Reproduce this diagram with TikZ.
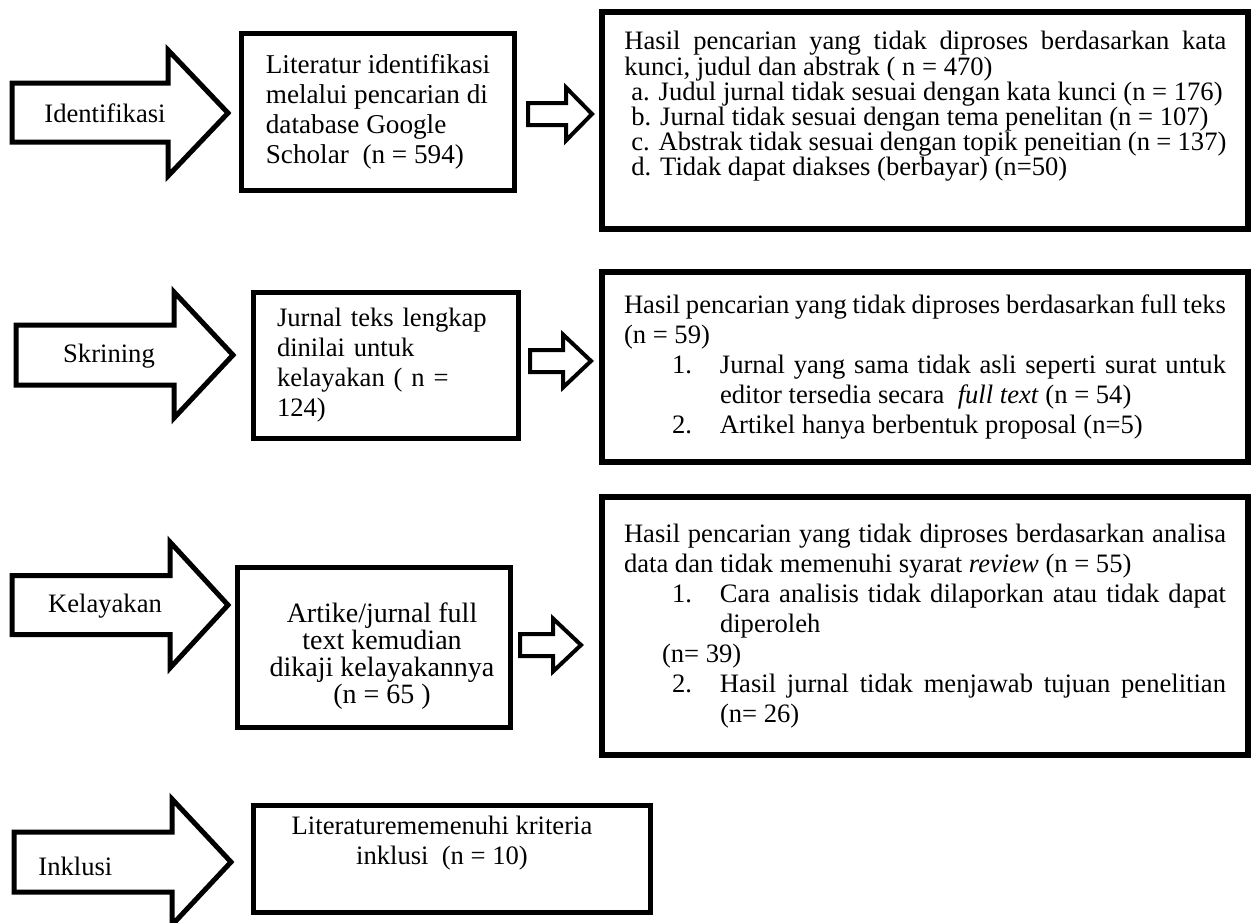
\documentclass[tikz,border=0pt]{standalone}
\usepackage{fontspec}
\setmainfont{Liberation Serif}
\setlength{\parindent}{0pt}
\hyphenpenalty=10000
\exhyphenpenalty=10000

\begin{document}
\begin{tikzpicture}[x=0.5pt,y=-0.5pt,
        font=\fontsize{13.3}{15}\selectfont,
        box/.style={draw,line width=2.5pt,inner xsep=12pt,inner ysep=0pt},
        resbox/.style={draw,line width=3pt,inner xsep=11pt,inner ysep=0pt,align=justify},
        restext/.style={inner sep=0pt,text width=301pt,align=justify},
        bigarr/.style={draw,line width=2.5pt},
        smallarr/.style={draw,line width=2pt},
        lbl/.style={inner sep=0pt}]
            \useasboundingbox (0,0) rectangle (1252,922);

            % identifikasi
            \draw[bigarr] (12,83)--(168,83)--(168,50)--(228,113)--(168,176)--(168,142)--(12,142)--cycle;
            \node[lbl] (idf) at (105,113) {Identifikasi};
            \node[box,minimum width=134pt,minimum height=78.5pt,align=left,
                font=\fontsize{13.6}{15}\selectfont] (lit) at (378,111.5)
                {Literatur identifikasi\\melalui pencarian di\\database Google\\Scholar~ (n = 594)};
            \draw[smallarr] (528,103)--(566,103)--(566,87.5)--(592,114)--(566,140.5)--(566,125)--(528,125)--cycle;
            \node[resbox,minimum width=323pt,minimum height=108.5pt] (res1) at (925,120.5) {};
            \node[restext,anchor=north west,font=\fontsize{13.3}{12.6}\selectfont] (res1txt) at (624,31)
                {Hasil pencarian yang tidak diproses berdasarkan kata\linebreak kunci, judul dan abstrak ( n = 470)\par
                \hspace*{3.5pt}a. Judul jurnal tidak sesuai dengan kata kunci (n = 176)\par
                \hspace*{3.5pt}b. Jurnal tidak sesuai dengan tema penelitan (n = 107)\par
                \hspace*{3.5pt}c. Abstrak tidak sesuai dengan topik peneitian (n = 137)\par
                \hspace*{3.5pt}d. Tidak dapat diakses (berbayar) (n=50)\par};

            % skrining
            \draw[bigarr] (16,325)--(174,325)--(174,292)--(233,355)--(174,418)--(174,385)--(16,385)--cycle;
            \node[lbl] (skr) at (109,356) {Skrining};
            \node[box,minimum width=132.5pt,minimum height=73pt,text width=108.5pt,align=left] (jur) at (385.5,365)
                {Jurnal teks lengkap\\dinilai untuk\\kelayakan ( n =\\124)};
            \draw[smallarr] (530,350)--(563,350)--(563,334.5)--(591,361)--(563,387.5)--(563,372)--(530,372)--cycle;
            \node[resbox,minimum width=323pt,minimum height=95pt,text width=301pt] (res2) at (925,367)
                {Hasil pencarian yang tidak diproses berdasarkan full teks\linebreak (n = 59)\par
                \hangindent=48pt\hangafter=1\hspace*{24pt}\makebox[24pt][l]{1.}Jurnal yang sama tidak asli seperti surat untuk\linebreak editor tersedia secara\ \ \textit{full text} (n = 54)\par
                \hspace*{24pt}\makebox[24pt][l]{2.}Artikel hanya berbentuk proposal (n=5)\par};

            % kelayakan
            \draw[bigarr] (12,575.5)--(170,575.5)--(170,542)--(228,605)--(170,668)--(170,634.5)--(12,634.5)--cycle;
            \node[lbl] (kel) at (105,606) {Kelayakan};
            \node[box,minimum width=136.5pt,minimum height=80pt] (art) at (373.5,647) {};
            \node[align=center,inner sep=0pt,font=\fontsize{14}{13.4}\selectfont] (arttxt) at (382,656)
                {Artike/jurnal full\\text kemudian\\dikaji kelayakannya\\(n = 65 )};
            \draw[smallarr] (520,634)--(553,634)--(553,618.5)--(581,645)--(553,671.5)--(553,656)--(520,656)--cycle;
            \node[resbox,minimum width=323pt,minimum height=129pt,text width=301pt] (res3) at (925,626)
                {Hasil pencarian yang tidak diproses berdasarkan analisa\linebreak data dan tidak memenuhi syarat \textit{review} (n = 55)\par
                \hangindent=48pt\hangafter=1\hspace*{24pt}\makebox[24pt][l]{1.}Cara analisis tidak dilaporkan atau tidak dapat\linebreak diperoleh\par
                \hspace*{19pt}(n= 39)\par
                \hangindent=48pt\hangafter=1\hspace*{24pt}\makebox[24pt][l]{2.}Hasil jurnal tidak menjawab tujuan penelitian\linebreak (n= 26)\par};

            % inklusi
            \draw[bigarr] (14,832)--(172,832)--(172,799)--(231,862)--(172,925)--(172,892)--(14,892)--cycle;
            \node[lbl,anchor=west] (ink) at (38,866) {Inklusi};
            \node[box,minimum width=198.5pt,minimum height=53.5pt] (inc) at (451.5,858.5) {};
            \node[align=center,inner sep=0pt] (inctxt) at (442,843) {Literaturememenuhi kriteria\\inklusi~ (n = 10)};
\end{tikzpicture}
\end{document}
